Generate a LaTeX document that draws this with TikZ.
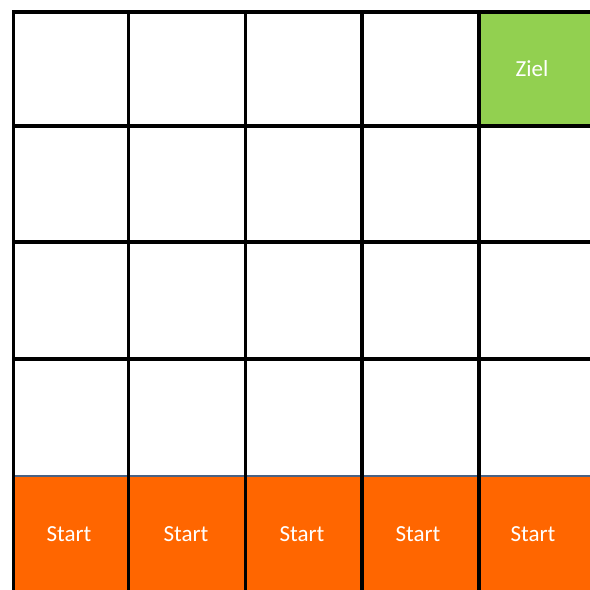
\documentclass[tikz,border=0pt]{standalone}
\usepackage{fontspec}
\setmainfont{Carlito}
\definecolor{startor}{HTML}{FF6600}
\definecolor{zielgr}{HTML}{92D050}
\definecolor{bluegr}{HTML}{4A6283}
\begin{document}
\begin{tikzpicture}[x=1pt,y=-1pt,
  gridline/.style={line width=3.3pt,black},
  lbl/.style={inner sep=0pt,text=white,font=\fontsize{23}{27}\selectfont}]
\useasboundingbox (0,0) rectangle (590,590);
\clip (0,0) rectangle (590,590);
% fills
\fill[startor] (13,476) rectangle (595,595);
\fill[zielgr] (479,12) rectangle (595,126);
% blue-gray border above start row
\draw[bluegr,line width=2pt] (13,476) -- (595,476);
% horizontal lines
\foreach \y in {12,126,242,359}
  \draw[gridline] (12,\y) -- (595,\y);
% vertical lines
\foreach \x in {13.5,128.5,245.5,362,479}
  \draw[gridline] (\x,10.5) -- (\x,595);
% labels
\node[lbl] (ziel) at (532,69) {Ziel};
\node[lbl] (s1) at (69,534) {Start};
\node[lbl] (s2) at (186,534) {Start};
\node[lbl] (s3) at (302,534) {Start};
\node[lbl] (s4) at (418,534) {Start};
\node[lbl] (s5) at (533,534) {Start};
\end{tikzpicture}
\end{document}
